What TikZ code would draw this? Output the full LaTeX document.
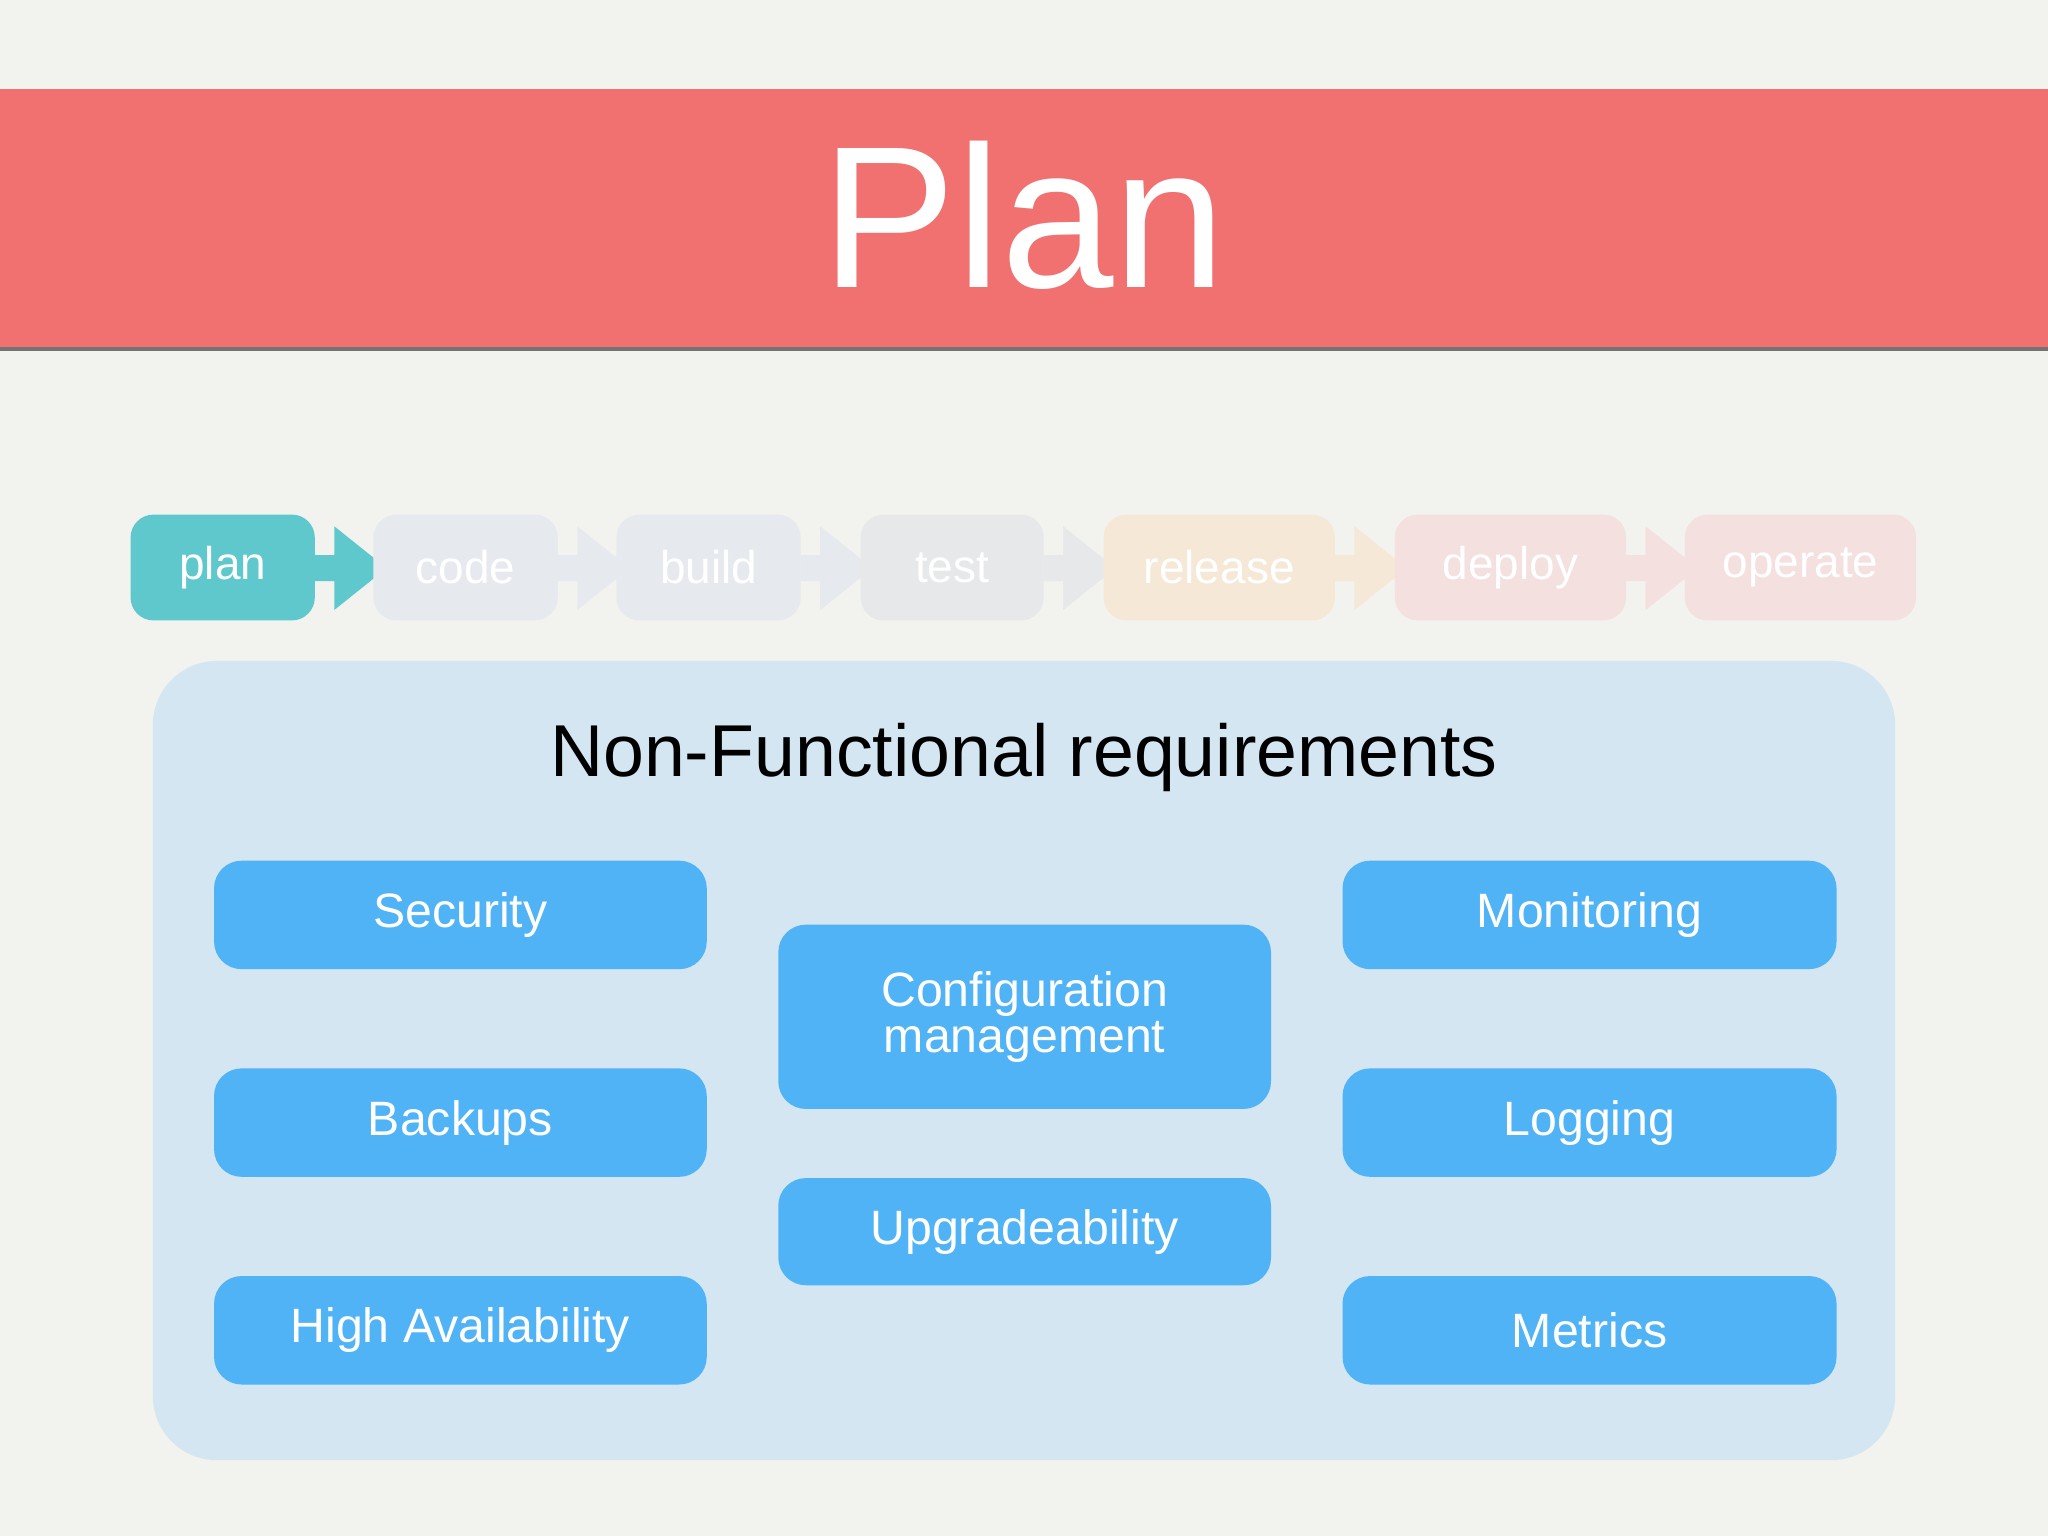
\documentclass[tikz,border=0pt]{standalone}
\usepackage{fontspec}
\setmainfont{Liberation Sans}
\definecolor{bg}{HTML}{F2F2EF}
\definecolor{band}{HTML}{F07170}
\definecolor{panel}{HTML}{D3E6F1}
\definecolor{blu}{HTML}{4FB3F6}
\definecolor{teal}{HTML}{5FC8CC}
\definecolor{fgray}{HTML}{E6E9EE}
\definecolor{fgray2}{HTML}{E7E8EA}
\definecolor{fpeach}{HTML}{F6E8D6}
\definecolor{fpink}{HTML}{F3E0DF}
\begin{document}
\begin{tikzpicture}[x=0.01cm,y=-0.01cm,
  req/.style={fill=blu,rounded corners=6pt,text=white,font=\fontsize{10.5}{12}\selectfont,align=center,inner sep=0pt},
  stage/.style={rounded corners=5pt,text=white,font=\fontsize{10}{12}\selectfont,inner sep=0pt,minimum height=0.81cm}]
\fill[bg] (0,0) rectangle (1568,1176);
\fill[black!55] (0,265) rectangle (1568,269);
\fill[band] (0,68) rectangle (1568,266);
\node[text=white,font=\fontsize{44}{50}\selectfont] (title) at (784,165) {Plan};
% pipeline arrows
\foreach \x/\c in {241/teal,427/fgray,613/fgray,799/fgray2,1022/fpeach,1245/fpink}
  \fill[\c] (\x,425) -- (\x+15,425) -- (\x+15,403) -- (\x+55,435) -- (\x+15,467) -- (\x+15,445) -- (\x,445) -- cycle;
\node[stage,fill=teal,minimum width=1.41cm] (plan) at (170.5,434.5) {plan};
\node[stage,fill=fgray,minimum width=1.41cm] (code) at (356.5,434.5) {code};
\node[stage,fill=fgray,minimum width=1.41cm] (build) at (542.5,434.5) {build};
\node[stage,fill=fgray2,minimum width=1.40cm] (test) at (729,434.5) {test};
\node[stage,fill=fpeach,minimum width=1.77cm] (release) at (933.5,434.5) {release};
\node[stage,fill=fpink,minimum width=1.77cm] (deploy) at (1156.5,434.5) {deploy};
\node[stage,fill=fpink,minimum width=1.77cm] (operate) at (1378.5,434.5) {operate};
% panel
\fill[panel,rounded corners=14pt] (117,506) rectangle (1451,1118);
\node[font=\fontsize{16}{18}\selectfont] (nfr) at (784,580) {Non-Functional requirements};
\node[req,minimum width=3.77cm,minimum height=0.83cm] (sec) at (352.5,700.5) {Security};
\node[req,minimum width=3.77cm,minimum height=0.83cm] (bak) at (352.5,859.5) {Backups};
\node[req,minimum width=3.77cm,minimum height=0.83cm] (ha) at (352.5,1018.5) {High Availability};
\node[req,minimum width=3.77cm,minimum height=1.41cm] (cfg) at (784.5,778.5) {Configuration\\[-2pt]management};
\node[req,minimum width=3.77cm,minimum height=0.82cm] (upg) at (784.5,943) {Upgradeability};
\node[req,minimum width=3.78cm,minimum height=0.83cm] (mon) at (1217,700.5) {Monitoring};
\node[req,minimum width=3.78cm,minimum height=0.83cm] (log) at (1217,859.5) {Logging};
\node[req,minimum width=3.78cm,minimum height=0.83cm] (met) at (1217,1018.5) {Metrics};
\end{tikzpicture}
\end{document}
